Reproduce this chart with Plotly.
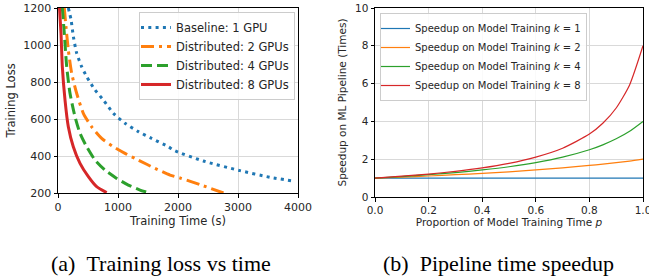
import plotly.graph_objects as go

# ---- Left chart data: training loss vs training time ----
base_t = [172, 217, 256, 311, 394, 478, 617, 756, 922, 1117, 1339, 1561, 1839, 1950, 2422, 3033, 3533, 3911]
base_l = [1200, 1137, 1046, 956, 883, 829, 757, 703, 631, 577, 532, 495, 450, 428, 373, 321, 285, 265]

d2_t = [105, 133, 172, 228, 311, 422, 561, 728, 922, 1117, 1339, 1617, 1867, 2034, 2368, 2758]
d2_l = [1200, 1099, 973, 847, 739, 631, 558, 495, 450, 414, 378, 333, 297, 281, 245, 200]

d4_t = [72, 105, 145, 200, 283, 367, 478, 617, 783, 978, 1172, 1367, 1506]
d4_l = [1200, 1063, 883, 739, 613, 523, 450, 378, 324, 279, 243, 216, 202]

d8_t = [25, 50, 72, 117, 172, 255, 367, 506, 644, 811]
d8_l = [1200, 1063, 883, 702, 558, 450, 360, 288, 234, 202]

left_names = ["Baseline: 1 GPU", "Distributed: 2 GPUs", "Distributed: 4 GPUs", "Distributed: 8 GPUs"]
left_xticks = [0, 1000, 2000, 3000, 4000]
left_yticks = [200, 400, 600, 800, 1000, 1200]

# ---- Right chart data: pipeline speedup vs proportion p ----
p_vals = [0.0, 0.1, 0.2, 0.3, 0.4, 0.5, 0.6, 0.7, 0.8, 0.85, 0.9, 0.95, 1.0]
sp_k1 = [1, 1, 1, 1, 1, 1, 1, 1, 1, 1, 1, 1, 1]
sp_k2 = [1.0, 1.05, 1.11, 1.18, 1.25, 1.33, 1.43, 1.54, 1.67, 1.74, 1.82, 1.90, 2.0]
sp_k4 = [1.0, 1.08, 1.18, 1.29, 1.43, 1.60, 1.82, 2.11, 2.50, 2.76, 3.08, 3.48, 4.0]
sp_k8 = [1.0, 1.10, 1.21, 1.36, 1.54, 1.78, 2.11, 2.58, 3.33, 3.90, 4.71, 5.93, 8.0]
right_names = ["Speedup on Model Training <i>k</i> = 1", "Speedup on Model Training <i>k</i> = 2",
               "Speedup on Model Training <i>k</i> = 4", "Speedup on Model Training <i>k</i> = 8"]
right_xticks = [0.0, 0.2, 0.4, 0.6, 0.8, 1.0]
right_xlabels = ["0.0", "0.2", "0.4", "0.6", "0.8", "1.0"]
right_yticks = [0, 2, 4, 6, 8, 10]

captions = ["(a)\u00a0\u00a0Training loss vs time", "(b)\u00a0\u00a0Pipeline time speedup"]

colors = ["#1f77b4", "#ff7f0e", "#2ca02c", "#d62728"]
W, H = 649, 278
FONT = "DejaVu Sans, sans-serif"

fig = go.Figure()
left_data = [(base_t, base_l, "3px,4.3px"), (d2_t, d2_l, "13px,5px,3px,5px"),
             (d4_t, d4_l, "11px,5px"), (d8_t, d8_l, "solid")]
for (xs, ys, dash), name, c in zip(left_data, left_names, colors):
    fig.add_trace(go.Scatter(x=xs, y=ys, mode="lines", name=name, xaxis="x", yaxis="y",
                             line=dict(color=c, width=3, dash=dash, shape="spline", smoothing=0.6),
                             legend="legend"))

for ys, name, c in zip([sp_k1, sp_k2, sp_k4, sp_k8], right_names, colors):
    fig.add_trace(go.Scatter(x=p_vals, y=ys, mode="lines", name=name, xaxis="x2", yaxis="y2",
                             line=dict(color=c, width=1.2, shape="spline", smoothing=0.6),
                             legend="legend2"))

def px_x(v):
    return v / W

def px_y(v):
    return 1 - v / H

axis_common = dict(showline=True, linecolor="black", linewidth=1, mirror=True,
                   ticks="outside", ticklen=3.5, tickcolor="black", showgrid=True,
                   gridcolor="#d9d9d9", gridwidth=1, zeroline=False, automargin=False)

fig.update_layout(
    width=W, height=H,
    margin=dict(l=0, r=0, t=0, b=0, autoexpand=False),
    paper_bgcolor="white", plot_bgcolor="white",
    font=dict(family=FONT, color="#262626", size=11),
    xaxis=dict(domain=[px_x(58), px_x(298)], range=[0, 4000], tickvals=left_xticks,
               title=dict(text="Training Time (s)", font=dict(size=11.5), standoff=3),
               tickfont=dict(size=11), anchor="y", **axis_common),
    yaxis=dict(domain=[px_y(193), px_y(8)], range=[200, 1200], tickvals=left_yticks,
               title=dict(text="Training Loss", font=dict(size=11.5), standoff=5),
               tickfont=dict(size=11), anchor="x", **axis_common),
    xaxis2=dict(domain=[px_x(375), px_x(643)], range=[0, 1], tickvals=right_xticks, ticktext=right_xlabels,
                title=dict(text="Proportion of Model Training Time <i>p</i>", font=dict(size=10.5), standoff=3),
                tickfont=dict(size=10.5), anchor="y2", ticklabeloverflow="allow", **axis_common),
    yaxis2=dict(domain=[px_y(197), px_y(8)], range=[0, 10], tickvals=right_yticks,
                title=dict(text="Speedup on ML Pipeline (Times)", font=dict(size=10.5), standoff=6),
                tickfont=dict(size=10.5), anchor="x2", **axis_common),
    legend=dict(x=px_x(139), y=px_y(12), xanchor="left", yanchor="top",
                bgcolor="rgba(255,255,255,0.85)", bordercolor="#cccccc", borderwidth=1,
                font=dict(size=11.5), tracegroupgap=0, itemwidth=30, indentation=-4),
    legend2=dict(x=px_x(380), y=px_y(13), xanchor="left", yanchor="top",
                 bgcolor="rgba(255,255,255,0.85)", bordercolor="#cccccc", borderwidth=1,
                 font=dict(size=10), tracegroupgap=0, itemwidth=30, indentation=-6),
    showlegend=True,
)

for text, cx in zip(captions, [161, 498]):
    fig.add_annotation(text=text, x=px_x(cx), y=px_y(263), xref="paper", yref="paper",
                       xanchor="center", yanchor="middle", showarrow=False,
                       font=dict(family="Liberation Serif, serif", size=22, color="black"))

fig.write_html("out.html", post_script="document.body.style.margin='0px';",
               config={"displayModeBar": False})
